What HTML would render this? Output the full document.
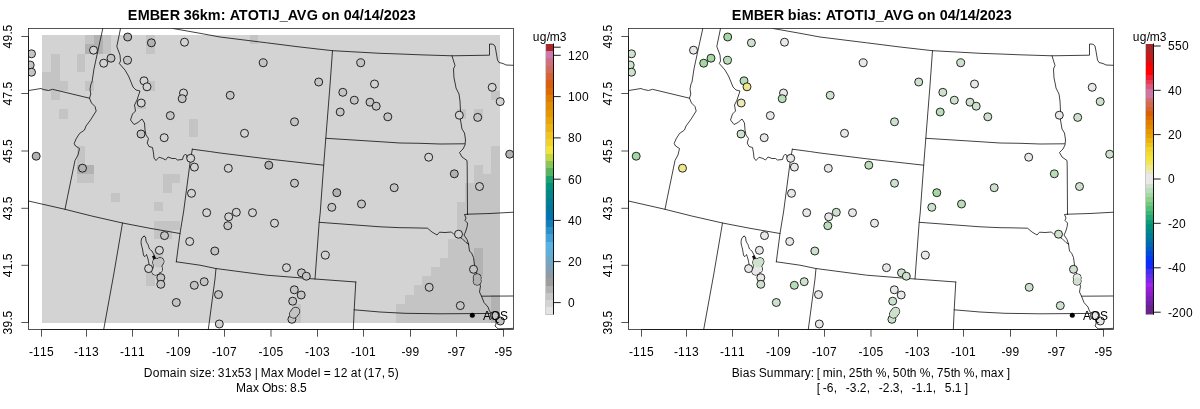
<!DOCTYPE html><html><head><meta charset="utf-8"><title>EMBER ATOTIJ_AVG</title>
<style>html,body{margin:0;padding:0;background:#fff}svg{display:block}text{font-family:"Liberation Sans",sans-serif;fill:#000}</style></head><body>
<svg width="1200" height="409" viewBox="0 0 1200 409">
<rect width="1200" height="409" fill="#fff"/>
<defs>
<clipPath id="clip"><rect x="28.5" y="28.5" width="485.0" height="301.0"/></clipPath>
<g id="map" fill="none" stroke="#000" stroke-width="0.75" stroke-linejoin="round" stroke-linecap="round">
<path d="M102.8,28.5 L98.5,48.0 L94.0,68.8 L92.0,82.0 L91.0,84.0 L90.0,89.0 L90.8,94.0 L89.5,98.2 L91.5,103.0 L95.0,106.5 L96.2,111.0 L93.0,116.0 L90.5,120.0 L86.0,126.0 L84.5,130.0 L79.5,133.5 L76.0,139.0 L74.2,143.5 L75.5,146.0 L79.5,148.5 L78.0,155.0 L75.0,160.5 L67.5,196.8 L65.0,209.3"/>
<path d="M28.5,90.5 L35.0,89.5 L41.0,88.5 L43.5,89.5 L48.5,90.5 L52.5,89.3 L89.5,98.2"/>
<path d="M28.5,201.0 L65.0,209.3 L91.7,216.0 L122.5,223.0 L150.0,228.3 L180.0,233.5"/>
<path d="M122.5,223.0 L113.8,274.0 L103.7,329.5"/>
<path d="M192.3,149.2 L190.0,163.0 L183.7,211.0 L180.0,233.5 L176.3,261.8"/>
<path d="M192.3,149.2 L209.7,151.5 L220.0,153.0 L266.7,158.8 L323.7,165.2"/>
<path d="M332.5,50.7 L329.8,88.0 L325.8,138.3 L323.7,165.2 L320.2,213.0 L319.2,222.3 L315.0,279.0"/>
<path d="M173.0,28.5 L200.0,33.3 L220.0,37.0 L266.7,42.8 L300.0,47.0 L332.5,50.7 L380.0,53.3 L400.0,54.0 L420.0,54.8 L452.0,55.8 L489.5,55.2 L489.5,44.0 L493.0,44.2 L495.0,46.0 L495.8,50.0 L497.5,60.0 L499.0,62.5 L503.0,63.5 L506.0,65.0 L513.5,65.3"/>
<path d="M452.0,55.8 L455.0,65.5 L453.5,69.0 L454.0,78.0 L455.5,85.0 L456.0,88.0 L459.0,94.0 L460.0,101.0 L460.5,111.0 L460.5,120.0 L462.0,129.0 L464.5,133.0 L465.5,140.0 L465.0,145.0 L463.0,149.0 L459.5,152.5 L462.0,157.0 L467.0,160.5 L467.2,165.8 L467.5,214.2"/>
<path d="M325.8,138.3 L380.0,141.7 L400.0,143.0 L420.0,143.3 L440.0,144.0 L464.5,143.8"/>
<path d="M467.5,214.2 L490.0,213.5 L513.5,212.2"/>
<path d="M467.5,214.2 L464.5,214.5 L466.0,218.0 L465.0,220.5 L467.5,223.0 L467.2,226.5 L465.5,232.0 L464.0,235.0 L467.0,239.5 L468.5,244.0"/>
<path d="M319.2,222.3 L380.0,226.8 L400.0,227.7 L410.0,227.8 L427.5,228.2 L432.0,232.0 L437.0,235.0 L439.5,232.2 L445.0,232.5 L451.5,232.0 L454.0,234.5 L462.0,238.5 L466.0,242.5 L468.5,244.0"/>
<path d="M468.5,244.0 L469.5,251.0 L471.6,253.2 L473.5,257.5 L474.5,265.0 L475.0,268.0 L476.5,274.0 L478.3,279.0 L479.6,284.0 L480.5,286.0 L479.5,292.0 L481.5,296.2 L484.0,302.5 L488.0,307.0 L489.5,311.0 L493.3,315.7 L496.0,321.0 L496.0,324.0 L495.0,326.0 L498.0,328.8 L510.0,328.5 L513.5,328.3"/>
<path d="M481.5,296.2 L513.5,296.0"/>
<path d="M354.2,309.8 L380.0,312.0 L405.0,313.3 L440.0,313.8 L484.0,313.5 L491.5,313.3"/>
<path d="M176.3,261.8 L200.0,265.2 L215.8,268.5 L266.7,275.2 L315.0,279.0 L355.8,282.0"/>
<path d="M355.8,282.0 L354.2,309.8 L353.3,329.5"/>
<path d="M216.0,268.5 L215.0,279.0 L208.3,329.5"/>
<path d="M120.5,28.5 L116.8,46.5 L120.0,55.0 L120.5,61.0 L119.3,63.5 L125.0,70.0 L128.5,76.0 L131.0,82.0 L133.0,87.0 L136.0,90.0 L140.0,91.0 L138.0,97.0 L137.0,100.0 L134.5,105.0 L135.5,111.0 L132.5,114.0 L130.5,120.0 L134.0,124.5 L138.0,122.5 L142.0,119.0 L144.5,123.0 L145.0,130.0 L146.0,135.0 L148.5,138.5 L147.2,143.0 L149.0,146.5 L152.5,147.5 L153.5,153.0 L154.0,158.0 L156.0,160.5 L159.0,157.2 L163.0,158.5 L165.5,160.0 L168.0,157.0 L172.0,158.5 L175.5,158.5 L177.5,160.0 L182.5,159.5 L183.5,156.0 L185.5,154.0 L186.5,155.5 L187.5,158.5 L190.3,161.2"/>
<path d="M144.0,236.4 L142.6,237.2 L141.5,239.0 L141.1,241.5 L141.2,244.0 L141.8,246.5 L142.5,249.0 L143.0,252.0 L143.5,255.0 L144.2,256.3 L145.0,256.5 L145.8,255.6 L146.5,254.5 L147.2,256.5 L148.0,259.0 L148.6,261.8 L149.0,264.0 L150.0,266.5 L152.5,267.5 L154.5,266.5 L156.5,264.0 L156.8,261.5 L156.0,259.0 L154.0,255.0 L152.0,251.0 L150.6,250.0 L149.5,249.0 L148.6,246.5 L148.0,244.5 L146.8,242.8 L146.0,241.0 L145.8,239.0 L145.5,237.0 L144.8,236.4 L144.0,236.4Z"/>
<path d="M152.8,256.5 L154.2,255.6 L156.2,260.8 L154.8,261.0 L153.4,259.0 L152.8,256.5Z" fill="#111"/>
</g>
<g id="axes" fill="none" stroke="#000" stroke-width="0.75" stroke-opacity="0.9">
<rect x="28.5" y="28.5" width="485.0" height="301.0"/>
<path d="M41.5,329.5 H503.5 M41.5,329.5 V336.7 M86.5,329.5 V336.7 M132.5,329.5 V336.7 M178.5,329.5 V336.7 M224.5,329.5 V336.7 M271,329.5 V336.7 M317.5,329.5 V336.7 M363.5,329.5 V336.7 M410.5,329.5 V336.7 M456.5,329.5 V336.7 M503.5,329.5 V336.7"/>
<path d="M28.5,36.5 V322.5 M28.5,36.5 H21.3 M28.5,93.5 H21.3 M28.5,151 H21.3 M28.5,208.3 H21.3 M28.5,265.3 H21.3 M28.5,322.5 H21.3"/>
</g>
<g id="axlab" font-size="12">
<text x="29 33 40 47" y="355.8" font-size="12" xml:space="preserve">-115</text>
<text x="74 78 85 92" y="355.8" font-size="12" xml:space="preserve">-113</text>
<text x="120 124 131 138" y="355.8" font-size="12" xml:space="preserve">-111</text>
<text x="166 170 177 184" y="355.8" font-size="12" xml:space="preserve">-109</text>
<text x="212 216 223 230" y="355.8" font-size="12" xml:space="preserve">-107</text>
<text x="258.5 262.5 269.5 276.5" y="355.8" font-size="12" xml:space="preserve">-105</text>
<text x="305 309 316 323" y="355.8" font-size="12" xml:space="preserve">-103</text>
<text x="351 355 362 369" y="355.8" font-size="12" xml:space="preserve">-101</text>
<text x="401.5 405.5 412.5" y="355.8" font-size="12" xml:space="preserve">-99</text>
<text x="447.5 451.5 458.5" y="355.8" font-size="12" xml:space="preserve">-97</text>
<text x="494.5 498.5 505.5" y="355.8" font-size="12" xml:space="preserve">-95</text>
<text transform="translate(11.8,36.5) rotate(-90)" x="-12 -5 2 5" y="0" font-size="12" xml:space="preserve">49.5</text>
<text transform="translate(11.8,93.5) rotate(-90)" x="-12 -5 2 5" y="0" font-size="12" xml:space="preserve">47.5</text>
<text transform="translate(11.8,151) rotate(-90)" x="-12 -5 2 5" y="0" font-size="12" xml:space="preserve">45.5</text>
<text transform="translate(11.8,208.3) rotate(-90)" x="-12 -5 2 5" y="0" font-size="12" xml:space="preserve">43.5</text>
<text transform="translate(11.8,265.3) rotate(-90)" x="-12 -5 2 5" y="0" font-size="12" xml:space="preserve">41.5</text>
<text transform="translate(11.8,322.5) rotate(-90)" x="-12 -5 2 5" y="0" font-size="12" xml:space="preserve">39.5</text>
<circle cx="472.3" cy="315.3" r="2.5" fill="#000"/>
<text x="483 491 500" y="319.5" font-size="12" xml:space="preserve">AQS</text>
</g>
</defs>
<g opacity="0.999">
<g transform="translate(0,0)">
<g shape-rendering="crispEdges">
<rect x="42.2" y="35.0" width="457.80" height="287.60" fill="#d3d3d3"/>
<rect x="42.20" y="72.11" width="8.69" height="9.33" fill="#c4c4c4"/>
<rect x="42.20" y="81.39" width="8.69" height="9.33" fill="#c4c4c4"/>
<rect x="50.84" y="53.55" width="8.69" height="9.33" fill="#c4c4c4"/>
<rect x="50.84" y="62.83" width="8.69" height="9.33" fill="#c4c4c4"/>
<rect x="50.84" y="72.11" width="8.69" height="9.33" fill="#c4c4c4"/>
<rect x="50.84" y="81.39" width="8.69" height="9.33" fill="#c4c4c4"/>
<rect x="50.84" y="90.66" width="8.69" height="9.33" fill="#c4c4c4"/>
<rect x="59.48" y="81.39" width="8.69" height="9.33" fill="#c4c4c4"/>
<rect x="59.48" y="109.22" width="8.69" height="9.33" fill="#c4c4c4"/>
<rect x="76.75" y="53.55" width="8.69" height="9.33" fill="#c4c4c4"/>
<rect x="76.75" y="62.83" width="8.69" height="9.33" fill="#c4c4c4"/>
<rect x="76.75" y="146.33" width="8.69" height="9.33" fill="#c4c4c4"/>
<rect x="76.75" y="155.61" width="8.69" height="9.33" fill="#c4c4c4"/>
<rect x="76.75" y="164.88" width="8.69" height="9.33" fill="#b2b2b2"/>
<rect x="76.75" y="174.16" width="8.69" height="9.33" fill="#c4c4c4"/>
<rect x="85.39" y="35.00" width="8.69" height="9.33" fill="#c4c4c4"/>
<rect x="85.39" y="44.28" width="8.69" height="9.33" fill="#b2b2b2"/>
<rect x="85.39" y="81.39" width="8.69" height="9.33" fill="#c4c4c4"/>
<rect x="85.39" y="164.88" width="8.69" height="9.33" fill="#b2b2b2"/>
<rect x="85.39" y="174.16" width="8.69" height="9.33" fill="#c4c4c4"/>
<rect x="94.03" y="35.00" width="8.69" height="9.33" fill="#b2b2b2"/>
<rect x="94.03" y="44.28" width="8.69" height="9.33" fill="#b2b2b2"/>
<rect x="102.66" y="35.00" width="8.69" height="9.33" fill="#c4c4c4"/>
<rect x="102.66" y="44.28" width="8.69" height="9.33" fill="#c4c4c4"/>
<rect x="111.30" y="192.72" width="8.69" height="9.33" fill="#c4c4c4"/>
<rect x="137.22" y="99.94" width="8.69" height="9.33" fill="#c4c4c4"/>
<rect x="145.85" y="35.00" width="8.69" height="9.33" fill="#c4c4c4"/>
<rect x="145.85" y="44.28" width="8.69" height="9.33" fill="#c4c4c4"/>
<rect x="145.85" y="81.39" width="8.69" height="9.33" fill="#c4c4c4"/>
<rect x="145.85" y="266.94" width="8.69" height="9.33" fill="#c4c4c4"/>
<rect x="145.85" y="276.21" width="8.69" height="9.33" fill="#c4c4c4"/>
<rect x="154.49" y="201.99" width="8.69" height="9.33" fill="#c4c4c4"/>
<rect x="154.49" y="220.55" width="8.69" height="9.33" fill="#c4c4c4"/>
<rect x="154.49" y="229.83" width="8.69" height="9.33" fill="#c4c4c4"/>
<rect x="154.49" y="248.38" width="8.69" height="9.33" fill="#c4c4c4"/>
<rect x="154.49" y="257.66" width="8.69" height="9.33" fill="#c4c4c4"/>
<rect x="163.13" y="174.16" width="8.69" height="9.33" fill="#c4c4c4"/>
<rect x="163.13" y="183.44" width="8.69" height="9.33" fill="#c4c4c4"/>
<rect x="163.13" y="220.55" width="8.69" height="9.33" fill="#c4c4c4"/>
<rect x="163.13" y="229.83" width="8.69" height="9.33" fill="#c4c4c4"/>
<rect x="171.77" y="174.16" width="8.69" height="9.33" fill="#c4c4c4"/>
<rect x="171.77" y="220.55" width="8.69" height="9.33" fill="#c4c4c4"/>
<rect x="189.04" y="118.50" width="8.69" height="9.33" fill="#c4c4c4"/>
<rect x="189.04" y="127.77" width="8.69" height="9.33" fill="#c4c4c4"/>
<rect x="249.51" y="35.00" width="8.69" height="9.33" fill="#c4c4c4"/>
<rect x="292.69" y="304.05" width="8.69" height="9.33" fill="#c4c4c4"/>
<rect x="292.69" y="313.32" width="8.69" height="9.33" fill="#c4c4c4"/>
<rect x="396.35" y="304.05" width="8.69" height="9.33" fill="#c4c4c4"/>
<rect x="396.35" y="313.32" width="8.69" height="9.33" fill="#c4c4c4"/>
<rect x="404.98" y="294.77" width="8.69" height="9.33" fill="#c4c4c4"/>
<rect x="404.98" y="304.05" width="8.69" height="9.33" fill="#c4c4c4"/>
<rect x="404.98" y="313.32" width="8.69" height="9.33" fill="#c4c4c4"/>
<rect x="413.62" y="285.49" width="8.69" height="9.33" fill="#c4c4c4"/>
<rect x="413.62" y="294.77" width="8.69" height="9.33" fill="#c4c4c4"/>
<rect x="413.62" y="304.05" width="8.69" height="9.33" fill="#c4c4c4"/>
<rect x="413.62" y="313.32" width="8.69" height="9.33" fill="#c4c4c4"/>
<rect x="422.26" y="276.21" width="8.69" height="9.33" fill="#c4c4c4"/>
<rect x="422.26" y="285.49" width="8.69" height="9.33" fill="#c4c4c4"/>
<rect x="422.26" y="294.77" width="8.69" height="9.33" fill="#c4c4c4"/>
<rect x="422.26" y="304.05" width="8.69" height="9.33" fill="#c4c4c4"/>
<rect x="422.26" y="313.32" width="8.69" height="9.33" fill="#c4c4c4"/>
<rect x="430.90" y="266.94" width="8.69" height="9.33" fill="#c4c4c4"/>
<rect x="430.90" y="276.21" width="8.69" height="9.33" fill="#c4c4c4"/>
<rect x="430.90" y="285.49" width="8.69" height="9.33" fill="#c4c4c4"/>
<rect x="430.90" y="294.77" width="8.69" height="9.33" fill="#c4c4c4"/>
<rect x="430.90" y="304.05" width="8.69" height="9.33" fill="#c4c4c4"/>
<rect x="430.90" y="313.32" width="8.69" height="9.33" fill="#c4c4c4"/>
<rect x="439.54" y="257.66" width="8.69" height="9.33" fill="#c4c4c4"/>
<rect x="439.54" y="266.94" width="8.69" height="9.33" fill="#c4c4c4"/>
<rect x="439.54" y="276.21" width="8.69" height="9.33" fill="#c4c4c4"/>
<rect x="439.54" y="285.49" width="8.69" height="9.33" fill="#c4c4c4"/>
<rect x="439.54" y="294.77" width="8.69" height="9.33" fill="#c4c4c4"/>
<rect x="439.54" y="304.05" width="8.69" height="9.33" fill="#c4c4c4"/>
<rect x="439.54" y="313.32" width="8.69" height="9.33" fill="#c4c4c4"/>
<rect x="448.17" y="239.10" width="8.69" height="9.33" fill="#c4c4c4"/>
<rect x="448.17" y="248.38" width="8.69" height="9.33" fill="#c4c4c4"/>
<rect x="448.17" y="257.66" width="8.69" height="9.33" fill="#c4c4c4"/>
<rect x="448.17" y="266.94" width="8.69" height="9.33" fill="#c4c4c4"/>
<rect x="448.17" y="276.21" width="8.69" height="9.33" fill="#c4c4c4"/>
<rect x="448.17" y="285.49" width="8.69" height="9.33" fill="#c4c4c4"/>
<rect x="448.17" y="294.77" width="8.69" height="9.33" fill="#c4c4c4"/>
<rect x="448.17" y="304.05" width="8.69" height="9.33" fill="#c4c4c4"/>
<rect x="448.17" y="313.32" width="8.69" height="9.33" fill="#c4c4c4"/>
<rect x="456.81" y="109.22" width="8.69" height="9.33" fill="#c4c4c4"/>
<rect x="456.81" y="201.99" width="8.69" height="9.33" fill="#c4c4c4"/>
<rect x="456.81" y="211.27" width="8.69" height="9.33" fill="#c4c4c4"/>
<rect x="456.81" y="220.55" width="8.69" height="9.33" fill="#c4c4c4"/>
<rect x="456.81" y="229.83" width="8.69" height="9.33" fill="#c4c4c4"/>
<rect x="456.81" y="239.10" width="8.69" height="9.33" fill="#c4c4c4"/>
<rect x="456.81" y="248.38" width="8.69" height="9.33" fill="#c4c4c4"/>
<rect x="456.81" y="257.66" width="8.69" height="9.33" fill="#c4c4c4"/>
<rect x="456.81" y="266.94" width="8.69" height="9.33" fill="#c4c4c4"/>
<rect x="456.81" y="276.21" width="8.69" height="9.33" fill="#c4c4c4"/>
<rect x="456.81" y="285.49" width="8.69" height="9.33" fill="#c4c4c4"/>
<rect x="456.81" y="294.77" width="8.69" height="9.33" fill="#c4c4c4"/>
<rect x="456.81" y="304.05" width="8.69" height="9.33" fill="#c4c4c4"/>
<rect x="456.81" y="313.32" width="8.69" height="9.33" fill="#c4c4c4"/>
<rect x="465.45" y="183.44" width="8.69" height="9.33" fill="#c4c4c4"/>
<rect x="465.45" y="192.72" width="8.69" height="9.33" fill="#c4c4c4"/>
<rect x="465.45" y="201.99" width="8.69" height="9.33" fill="#c4c4c4"/>
<rect x="465.45" y="211.27" width="8.69" height="9.33" fill="#c4c4c4"/>
<rect x="465.45" y="220.55" width="8.69" height="9.33" fill="#c4c4c4"/>
<rect x="465.45" y="229.83" width="8.69" height="9.33" fill="#c4c4c4"/>
<rect x="465.45" y="239.10" width="8.69" height="9.33" fill="#c4c4c4"/>
<rect x="465.45" y="248.38" width="8.69" height="9.33" fill="#c4c4c4"/>
<rect x="465.45" y="257.66" width="8.69" height="9.33" fill="#c4c4c4"/>
<rect x="465.45" y="266.94" width="8.69" height="9.33" fill="#c4c4c4"/>
<rect x="465.45" y="276.21" width="8.69" height="9.33" fill="#c4c4c4"/>
<rect x="465.45" y="285.49" width="8.69" height="9.33" fill="#c4c4c4"/>
<rect x="465.45" y="294.77" width="8.69" height="9.33" fill="#c4c4c4"/>
<rect x="465.45" y="304.05" width="8.69" height="9.33" fill="#c4c4c4"/>
<rect x="465.45" y="313.32" width="8.69" height="9.33" fill="#c4c4c4"/>
<rect x="474.09" y="109.22" width="8.69" height="9.33" fill="#c4c4c4"/>
<rect x="474.09" y="164.88" width="8.69" height="9.33" fill="#c4c4c4"/>
<rect x="474.09" y="174.16" width="8.69" height="9.33" fill="#c4c4c4"/>
<rect x="474.09" y="183.44" width="8.69" height="9.33" fill="#c4c4c4"/>
<rect x="474.09" y="192.72" width="8.69" height="9.33" fill="#c4c4c4"/>
<rect x="474.09" y="201.99" width="8.69" height="9.33" fill="#c4c4c4"/>
<rect x="474.09" y="211.27" width="8.69" height="9.33" fill="#c4c4c4"/>
<rect x="474.09" y="220.55" width="8.69" height="9.33" fill="#c4c4c4"/>
<rect x="474.09" y="229.83" width="8.69" height="9.33" fill="#c4c4c4"/>
<rect x="474.09" y="239.10" width="8.69" height="9.33" fill="#c4c4c4"/>
<rect x="474.09" y="248.38" width="8.69" height="9.33" fill="#b2b2b2"/>
<rect x="474.09" y="257.66" width="8.69" height="9.33" fill="#b2b2b2"/>
<rect x="474.09" y="266.94" width="8.69" height="9.33" fill="#b2b2b2"/>
<rect x="474.09" y="276.21" width="8.69" height="9.33" fill="#c4c4c4"/>
<rect x="474.09" y="285.49" width="8.69" height="9.33" fill="#c4c4c4"/>
<rect x="474.09" y="294.77" width="8.69" height="9.33" fill="#c4c4c4"/>
<rect x="474.09" y="304.05" width="8.69" height="9.33" fill="#c4c4c4"/>
<rect x="474.09" y="313.32" width="8.69" height="9.33" fill="#c4c4c4"/>
<rect x="482.72" y="174.16" width="8.69" height="9.33" fill="#c4c4c4"/>
<rect x="482.72" y="183.44" width="8.69" height="9.33" fill="#c4c4c4"/>
<rect x="482.72" y="192.72" width="8.69" height="9.33" fill="#c4c4c4"/>
<rect x="482.72" y="201.99" width="8.69" height="9.33" fill="#c4c4c4"/>
<rect x="482.72" y="211.27" width="8.69" height="9.33" fill="#c4c4c4"/>
<rect x="482.72" y="220.55" width="8.69" height="9.33" fill="#c4c4c4"/>
<rect x="482.72" y="229.83" width="8.69" height="9.33" fill="#c4c4c4"/>
<rect x="482.72" y="239.10" width="8.69" height="9.33" fill="#c4c4c4"/>
<rect x="482.72" y="248.38" width="8.69" height="9.33" fill="#c4c4c4"/>
<rect x="482.72" y="257.66" width="8.69" height="9.33" fill="#c4c4c4"/>
<rect x="482.72" y="266.94" width="8.69" height="9.33" fill="#c4c4c4"/>
<rect x="482.72" y="276.21" width="8.69" height="9.33" fill="#c4c4c4"/>
<rect x="482.72" y="285.49" width="8.69" height="9.33" fill="#c4c4c4"/>
<rect x="482.72" y="294.77" width="8.69" height="9.33" fill="#c4c4c4"/>
<rect x="482.72" y="304.05" width="8.69" height="9.33" fill="#c4c4c4"/>
<rect x="482.72" y="313.32" width="8.69" height="9.33" fill="#c4c4c4"/>
<rect x="491.36" y="90.66" width="8.69" height="9.33" fill="#c4c4c4"/>
<rect x="491.36" y="146.33" width="8.69" height="9.33" fill="#c4c4c4"/>
<rect x="491.36" y="155.61" width="8.69" height="9.33" fill="#c4c4c4"/>
<rect x="491.36" y="164.88" width="8.69" height="9.33" fill="#c4c4c4"/>
<rect x="491.36" y="174.16" width="8.69" height="9.33" fill="#c4c4c4"/>
<rect x="491.36" y="183.44" width="8.69" height="9.33" fill="#c4c4c4"/>
<rect x="491.36" y="192.72" width="8.69" height="9.33" fill="#c4c4c4"/>
<rect x="491.36" y="201.99" width="8.69" height="9.33" fill="#c4c4c4"/>
<rect x="491.36" y="211.27" width="8.69" height="9.33" fill="#c4c4c4"/>
<rect x="491.36" y="220.55" width="8.69" height="9.33" fill="#c4c4c4"/>
<rect x="491.36" y="229.83" width="8.69" height="9.33" fill="#c4c4c4"/>
<rect x="491.36" y="239.10" width="8.69" height="9.33" fill="#c4c4c4"/>
<rect x="491.36" y="248.38" width="8.69" height="9.33" fill="#c4c4c4"/>
<rect x="491.36" y="257.66" width="8.69" height="9.33" fill="#c4c4c4"/>
<rect x="491.36" y="266.94" width="8.69" height="9.33" fill="#c4c4c4"/>
<rect x="491.36" y="276.21" width="8.69" height="9.33" fill="#c4c4c4"/>
<rect x="491.36" y="285.49" width="8.69" height="9.33" fill="#c4c4c4"/>
<rect x="491.36" y="294.77" width="8.69" height="9.33" fill="#b2b2b2"/>
<rect x="491.36" y="304.05" width="8.69" height="9.33" fill="#b2b2b2"/>
<rect x="491.36" y="313.32" width="8.69" height="9.33" fill="#b2b2b2"/>
</g>
<g clip-path="url(#clip)">
<use href="#map"/>
<g stroke="#000" stroke-width="0.9" stroke-opacity="0.92">
<circle cx="31.5" cy="53.8" r="4.0" fill="#c4c4c4"/>
<circle cx="30.2" cy="65" r="4.0" fill="#c4c4c4"/>
<circle cx="31.5" cy="72.2" r="4.0" fill="#c4c4c4"/>
<circle cx="93.5" cy="50.2" r="4.0" fill="#d3d3d3"/>
<circle cx="103.7" cy="63.2" r="4.0" fill="#d3d3d3"/>
<circle cx="111" cy="58.2" r="4.0" fill="#c4c4c4"/>
<circle cx="127.7" cy="37" r="4.0" fill="#b2b2b2"/>
<circle cx="127.5" cy="60.3" r="4.0" fill="#c4c4c4"/>
<circle cx="151.4" cy="42.8" r="4.0" fill="#b2b2b2"/>
<circle cx="184.5" cy="42.2" r="4.0" fill="#d3d3d3"/>
<circle cx="144" cy="80.8" r="4.0" fill="#d3d3d3"/>
<circle cx="147" cy="86.8" r="4.0" fill="#d3d3d3"/>
<circle cx="263.2" cy="62.8" r="4.0" fill="#c4c4c4"/>
<circle cx="318.7" cy="82" r="4.0" fill="#c4c4c4"/>
<circle cx="360.7" cy="62.8" r="4.0" fill="#c4c4c4"/>
<circle cx="374.5" cy="84" r="4.0" fill="#d3d3d3"/>
<circle cx="183.5" cy="93" r="4.0" fill="#d3d3d3"/>
<circle cx="182.2" cy="98.7" r="4.0" fill="#c4c4c4"/>
<circle cx="141.2" cy="103" r="4.0" fill="#d3d3d3"/>
<circle cx="170.3" cy="115.6" r="4.0" fill="#c4c4c4"/>
<circle cx="141" cy="134" r="4.0" fill="#c4c4c4"/>
<circle cx="164.2" cy="137.7" r="4.0" fill="#d3d3d3"/>
<circle cx="230.2" cy="95.3" r="4.0" fill="#c4c4c4"/>
<circle cx="244.5" cy="133.3" r="4.0" fill="#d3d3d3"/>
<circle cx="294.5" cy="121.8" r="4.0" fill="#c4c4c4"/>
<circle cx="342.8" cy="92.3" r="4.0" fill="#c4c4c4"/>
<circle cx="354.3" cy="100.2" r="4.0" fill="#c4c4c4"/>
<circle cx="340.2" cy="112" r="4.0" fill="#c4c4c4"/>
<circle cx="370" cy="102.2" r="4.0" fill="#c4c4c4"/>
<circle cx="376.2" cy="106.2" r="4.0" fill="#c4c4c4"/>
<circle cx="387.8" cy="116.8" r="4.0" fill="#c4c4c4"/>
<circle cx="492.2" cy="87.3" r="4.0" fill="#d3d3d3"/>
<circle cx="500.2" cy="101.6" r="4.0" fill="#d3d3d3"/>
<circle cx="459.3" cy="115.2" r="4.0" fill="#d3d3d3"/>
<circle cx="477.7" cy="117.4" r="4.0" fill="#c4c4c4"/>
<circle cx="509.7" cy="154.2" r="4.0" fill="#b2b2b2"/>
<circle cx="36.2" cy="156.2" r="4.0" fill="#b2b2b2"/>
<circle cx="82.5" cy="168.2" r="4.0" fill="#b2b2b2"/>
<circle cx="190.7" cy="158.3" r="4.0" fill="#d3d3d3"/>
<circle cx="194.4" cy="167.1" r="4.0" fill="#d3d3d3"/>
<circle cx="191.5" cy="193.3" r="4.0" fill="#d3d3d3"/>
<circle cx="206.7" cy="212.7" r="4.0" fill="#d3d3d3"/>
<circle cx="228.3" cy="168.3" r="4.0" fill="#d3d3d3"/>
<circle cx="268.8" cy="165.2" r="4.0" fill="#b2b2b2"/>
<circle cx="294.5" cy="183.2" r="4.0" fill="#c4c4c4"/>
<circle cx="336.8" cy="192.7" r="4.0" fill="#b2b2b2"/>
<circle cx="331.8" cy="207.3" r="4.0" fill="#c4c4c4"/>
<circle cx="361.5" cy="204" r="4.0" fill="#c4c4c4"/>
<circle cx="394.2" cy="187.7" r="4.0" fill="#c4c4c4"/>
<circle cx="236.3" cy="212.3" r="4.0" fill="#d3d3d3"/>
<circle cx="252.5" cy="212.7" r="4.0" fill="#d3d3d3"/>
<circle cx="228.7" cy="216.8" r="4.0" fill="#d3d3d3"/>
<circle cx="227.8" cy="225.7" r="4.0" fill="#c4c4c4"/>
<circle cx="274.5" cy="223.2" r="4.0" fill="#d3d3d3"/>
<circle cx="428.7" cy="157.2" r="4.0" fill="#d3d3d3"/>
<circle cx="454.3" cy="173.8" r="4.0" fill="#b2b2b2"/>
<circle cx="479.5" cy="186.5" r="4.0" fill="#c4c4c4"/>
<circle cx="164.5" cy="235.6" r="4.0" fill="#c4c4c4"/>
<circle cx="189.7" cy="241.5" r="4.0" fill="#d3d3d3"/>
<circle cx="214.8" cy="251" r="4.0" fill="#c4c4c4"/>
<circle cx="159.4" cy="250.3" r="4.0" fill="#d3d3d3"/>
<circle cx="286.5" cy="267.7" r="4.0" fill="#d3d3d3"/>
<circle cx="301.5" cy="272.8" r="4.0" fill="#c4c4c4"/>
<circle cx="306.3" cy="276.2" r="4.0" fill="#c4c4c4"/>
<circle cx="325.3" cy="255.2" r="4.0" fill="#d3d3d3"/>
<circle cx="458.5" cy="234.2" r="4.0" fill="#d3d3d3"/>
<circle cx="473.5" cy="269.3" r="4.0" fill="#c4c4c4"/>
<circle cx="477.2" cy="277.8" r="4.0" fill="#b2b2b2"/>
<circle cx="477.2" cy="281.2" r="4.0" fill="#b2b2b2"/>
<circle cx="477.2" cy="277.8" r="3.6" stroke="none" fill="#b2b2b2"/>
<circle cx="477.2" cy="281.2" r="3.6" stroke="none" fill="#b2b2b2"/>
<circle cx="155.7" cy="271.2" r="4.0" fill="#d3d3d3"/>
<circle cx="158.6" cy="269.0" r="4.0" fill="#d3d3d3"/>
<circle cx="157.2" cy="267.0" r="4.0" fill="#d3d3d3"/>
<circle cx="156.6" cy="262.4" r="4.0" fill="#c4c4c4"/>
<circle cx="160.0" cy="261.6" r="4.0" fill="#c4c4c4"/>
<circle cx="158.4" cy="264.0" r="4.0" fill="#c4c4c4"/>
<circle cx="155.7" cy="271.2" r="3.6" stroke="none" fill="#d3d3d3"/>
<circle cx="158.6" cy="269.0" r="3.6" stroke="none" fill="#d3d3d3"/>
<circle cx="157.2" cy="267.0" r="3.6" stroke="none" fill="#d3d3d3"/>
<circle cx="156.6" cy="262.4" r="3.6" stroke="none" fill="#c4c4c4"/>
<circle cx="160.0" cy="261.6" r="3.6" stroke="none" fill="#c4c4c4"/>
<circle cx="158.4" cy="264.0" r="3.6" stroke="none" fill="#c4c4c4"/>
<circle cx="148.6" cy="268.6" r="4.0" fill="#d3d3d3"/>
<circle cx="160.8" cy="277.7" r="4.0" fill="#c4c4c4"/>
<circle cx="160.8" cy="284.3" r="4.0" fill="#c4c4c4"/>
<circle cx="194.3" cy="285.3" r="4.0" fill="#c4c4c4"/>
<circle cx="204.2" cy="281.7" r="4.0" fill="#c4c4c4"/>
<circle cx="176.3" cy="302.5" r="4.0" fill="#c4c4c4"/>
<circle cx="218.5" cy="294.6" r="4.0" fill="#c4c4c4"/>
<circle cx="219.3" cy="324" r="4.0" fill="#d3d3d3"/>
<circle cx="294.3" cy="289.8" r="4.0" fill="#c4c4c4"/>
<circle cx="301.2" cy="295" r="4.0" fill="#c4c4c4"/>
<circle cx="292.7" cy="301.2" r="4.0" fill="#c4c4c4"/>
<circle cx="291.9" cy="319.3" r="4.0" fill="#c4c4c4"/>
<circle cx="293.5" cy="314.2" r="4.0" fill="#c4c4c4"/>
<circle cx="294.2" cy="313.3" r="4.0" fill="#c4c4c4"/>
<circle cx="295" cy="312.3" r="4.0" fill="#c4c4c4"/>
<circle cx="295.7" cy="311.3" r="4.0" fill="#c4c4c4"/>
<circle cx="293.5" cy="314.2" r="3.6" stroke="none" fill="#c4c4c4"/>
<circle cx="294.2" cy="313.3" r="3.6" stroke="none" fill="#c4c4c4"/>
<circle cx="295" cy="312.3" r="3.6" stroke="none" fill="#c4c4c4"/>
<circle cx="295.7" cy="311.3" r="3.6" stroke="none" fill="#c4c4c4"/>
<circle cx="429.2" cy="287.3" r="4.0" fill="#c4c4c4"/>
<circle cx="460.3" cy="305.6" r="4.0" fill="#c4c4c4"/>
<circle cx="494.5" cy="315.5" r="4.0" fill="#c4c4c4"/>
<circle cx="500.3" cy="321" r="4.0" fill="#c4c4c4"/>
</g></g>
<use href="#axes"/><use href="#axlab"/>
</g>
<g transform="translate(600,0)">
<g clip-path="url(#clip)">
<use href="#map"/>
<g stroke="#000" stroke-width="0.9" stroke-opacity="0.92">
<circle cx="31.5" cy="53.8" r="4.0" fill="#cde1cd"/>
<circle cx="30.2" cy="65" r="4.0" fill="#cde1cd"/>
<circle cx="31.5" cy="72.2" r="4.0" fill="#cde1cd"/>
<circle cx="93.5" cy="50.2" r="4.0" fill="#e8e8e8"/>
<circle cx="103.7" cy="63.2" r="4.0" fill="#a5d7a5"/>
<circle cx="111" cy="58.2" r="4.0" fill="#a5d7a5"/>
<circle cx="127.7" cy="37" r="4.0" fill="#a5d7a5"/>
<circle cx="127.5" cy="60.3" r="4.0" fill="#b9dcb9"/>
<circle cx="151.4" cy="42.8" r="4.0" fill="#cde1cd"/>
<circle cx="184.5" cy="42.2" r="4.0" fill="#e8e8e8"/>
<circle cx="144" cy="80.8" r="4.0" fill="#b9dcb9"/>
<circle cx="147" cy="86.8" r="4.0" fill="#eee88c"/>
<circle cx="263.2" cy="62.8" r="4.0" fill="#e8e8e8"/>
<circle cx="318.7" cy="82" r="4.0" fill="#cde1cd"/>
<circle cx="360.7" cy="62.8" r="4.0" fill="#cde1cd"/>
<circle cx="374.5" cy="84" r="4.0" fill="#e8e8e8"/>
<circle cx="183.5" cy="93" r="4.0" fill="#e8e8e8"/>
<circle cx="182.2" cy="98.7" r="4.0" fill="#b9dcb9"/>
<circle cx="141.2" cy="103" r="4.0" fill="#ece8b9"/>
<circle cx="170.3" cy="115.6" r="4.0" fill="#e8e8e8"/>
<circle cx="141" cy="134" r="4.0" fill="#cde1cd"/>
<circle cx="164.2" cy="137.7" r="4.0" fill="#e8e8e8"/>
<circle cx="230.2" cy="95.3" r="4.0" fill="#cde1cd"/>
<circle cx="244.5" cy="133.3" r="4.0" fill="#e8e8e8"/>
<circle cx="294.5" cy="121.8" r="4.0" fill="#cde1cd"/>
<circle cx="342.8" cy="92.3" r="4.0" fill="#cde1cd"/>
<circle cx="354.3" cy="100.2" r="4.0" fill="#cde1cd"/>
<circle cx="340.2" cy="112" r="4.0" fill="#b9dcb9"/>
<circle cx="370" cy="102.2" r="4.0" fill="#cde1cd"/>
<circle cx="376.2" cy="106.2" r="4.0" fill="#cde1cd"/>
<circle cx="387.8" cy="116.8" r="4.0" fill="#cde1cd"/>
<circle cx="492.2" cy="87.3" r="4.0" fill="#e8e8e8"/>
<circle cx="500.2" cy="101.6" r="4.0" fill="#cde1cd"/>
<circle cx="459.3" cy="115.2" r="4.0" fill="#e8e8e8"/>
<circle cx="477.7" cy="117.4" r="4.0" fill="#cde1cd"/>
<circle cx="509.7" cy="154.2" r="4.0" fill="#cde1cd"/>
<circle cx="36.2" cy="156.2" r="4.0" fill="#a5d7a5"/>
<circle cx="82.5" cy="168.2" r="4.0" fill="#eee88c"/>
<circle cx="190.7" cy="158.3" r="4.0" fill="#e8e8e8"/>
<circle cx="194.4" cy="167.1" r="4.0" fill="#e8e8e8"/>
<circle cx="191.5" cy="193.3" r="4.0" fill="#e8e8e8"/>
<circle cx="206.7" cy="212.7" r="4.0" fill="#e8e8e8"/>
<circle cx="228.3" cy="168.3" r="4.0" fill="#e8e8e8"/>
<circle cx="268.8" cy="165.2" r="4.0" fill="#b9dcb9"/>
<circle cx="294.5" cy="183.2" r="4.0" fill="#cde1cd"/>
<circle cx="336.8" cy="192.7" r="4.0" fill="#a5d7a5"/>
<circle cx="331.8" cy="207.3" r="4.0" fill="#cde1cd"/>
<circle cx="361.5" cy="204" r="4.0" fill="#b9dcb9"/>
<circle cx="394.2" cy="187.7" r="4.0" fill="#cde1cd"/>
<circle cx="236.3" cy="212.3" r="4.0" fill="#cde1cd"/>
<circle cx="252.5" cy="212.7" r="4.0" fill="#e8e8e8"/>
<circle cx="228.7" cy="216.8" r="4.0" fill="#e8e8e8"/>
<circle cx="227.8" cy="225.7" r="4.0" fill="#b9dcb9"/>
<circle cx="274.5" cy="223.2" r="4.0" fill="#e8e8e8"/>
<circle cx="428.7" cy="157.2" r="4.0" fill="#e8e8e8"/>
<circle cx="454.3" cy="173.8" r="4.0" fill="#b9dcb9"/>
<circle cx="479.5" cy="186.5" r="4.0" fill="#cde1cd"/>
<circle cx="164.5" cy="235.6" r="4.0" fill="#e8e8e8"/>
<circle cx="189.7" cy="241.5" r="4.0" fill="#e8e8e8"/>
<circle cx="214.8" cy="251" r="4.0" fill="#cde1cd"/>
<circle cx="159.4" cy="250.3" r="4.0" fill="#e8e8e8"/>
<circle cx="286.5" cy="267.7" r="4.0" fill="#e8e8e8"/>
<circle cx="301.5" cy="272.8" r="4.0" fill="#cde1cd"/>
<circle cx="306.3" cy="276.2" r="4.0" fill="#cde1cd"/>
<circle cx="325.3" cy="255.2" r="4.0" fill="#e8e8e8"/>
<circle cx="458.5" cy="234.2" r="4.0" fill="#cde1cd"/>
<circle cx="473.5" cy="269.3" r="4.0" fill="#cde1cd"/>
<circle cx="477.2" cy="277.8" r="4.0" fill="#e8e8e8"/>
<circle cx="477.2" cy="281.2" r="4.0" fill="#cde1cd"/>
<circle cx="477.2" cy="277.8" r="3.6" stroke="none" fill="#e8e8e8"/>
<circle cx="477.2" cy="281.2" r="3.6" stroke="none" fill="#cde1cd"/>
<circle cx="155.7" cy="271.2" r="4.0" fill="#e8e8e8"/>
<circle cx="158.6" cy="269.0" r="4.0" fill="#e8e8e8"/>
<circle cx="157.2" cy="267.0" r="4.0" fill="#e8e8e8"/>
<circle cx="156.6" cy="262.4" r="4.0" fill="#cde1cd"/>
<circle cx="160.0" cy="261.6" r="4.0" fill="#cde1cd"/>
<circle cx="158.4" cy="264.0" r="4.0" fill="#cde1cd"/>
<circle cx="155.7" cy="271.2" r="3.6" stroke="none" fill="#e8e8e8"/>
<circle cx="158.6" cy="269.0" r="3.6" stroke="none" fill="#e8e8e8"/>
<circle cx="157.2" cy="267.0" r="3.6" stroke="none" fill="#e8e8e8"/>
<circle cx="156.6" cy="262.4" r="3.6" stroke="none" fill="#cde1cd"/>
<circle cx="160.0" cy="261.6" r="3.6" stroke="none" fill="#cde1cd"/>
<circle cx="158.4" cy="264.0" r="3.6" stroke="none" fill="#cde1cd"/>
<circle cx="148.6" cy="268.6" r="4.0" fill="#e8e8e8"/>
<circle cx="160.8" cy="277.7" r="4.0" fill="#e8e8e8"/>
<circle cx="160.8" cy="284.3" r="4.0" fill="#cde1cd"/>
<circle cx="194.3" cy="285.3" r="4.0" fill="#b9dcb9"/>
<circle cx="204.2" cy="281.7" r="4.0" fill="#cde1cd"/>
<circle cx="176.3" cy="302.5" r="4.0" fill="#cde1cd"/>
<circle cx="218.5" cy="294.6" r="4.0" fill="#e8e8e8"/>
<circle cx="219.3" cy="324" r="4.0" fill="#e8e8e8"/>
<circle cx="294.3" cy="289.8" r="4.0" fill="#e8e8e8"/>
<circle cx="301.2" cy="295" r="4.0" fill="#e8e8e8"/>
<circle cx="292.7" cy="301.2" r="4.0" fill="#cde1cd"/>
<circle cx="291.9" cy="319.3" r="4.0" fill="#cde1cd"/>
<circle cx="293.5" cy="314.2" r="4.0" fill="#cde1cd"/>
<circle cx="294.2" cy="313.3" r="4.0" fill="#cde1cd"/>
<circle cx="295" cy="312.3" r="4.0" fill="#cde1cd"/>
<circle cx="295.7" cy="311.3" r="4.0" fill="#cde1cd"/>
<circle cx="293.5" cy="314.2" r="3.6" stroke="none" fill="#cde1cd"/>
<circle cx="294.2" cy="313.3" r="3.6" stroke="none" fill="#cde1cd"/>
<circle cx="295" cy="312.3" r="3.6" stroke="none" fill="#cde1cd"/>
<circle cx="295.7" cy="311.3" r="3.6" stroke="none" fill="#cde1cd"/>
<circle cx="429.2" cy="287.3" r="4.0" fill="#cde1cd"/>
<circle cx="460.3" cy="305.6" r="4.0" fill="#cde1cd"/>
<circle cx="494.5" cy="315.5" r="4.0" fill="#e8e8e8"/>
<circle cx="500.3" cy="321" r="4.0" fill="#e8e8e8"/>
</g></g>
<use href="#axes"/><use href="#axlab"/>
</g>
<g>
<text x="127.7 137.7 149.7 159.7 169.7 179.7 183.7 191.7 199.7 207.7 220.7 225.7 229.7 238.7 247.7 258.7 267.7 271.7 279.7 287.7 296.7 306.7 317.7 321.7 330.7 339.7 343.7 351.7 359.7 363.7 371.7 379.7 383.7 391.7 399.7 407.7" y="19.6" font-size="14.4" font-weight="bold" xml:space="preserve">EMBER 36km: ATOTIJ_AVG on 04/14/2023</text>
<text x="731.7 741.7 753.7 763.7 773.7 783.7 787.7 796.7 800.7 808.7 816.7 821.7 825.7 834.7 843.7 854.7 863.7 867.7 875.7 883.7 892.7 902.7 913.7 917.7 926.7 935.7 939.7 947.7 955.7 959.7 967.7 975.7 979.7 987.7 995.7 1003.7" y="19.6" font-size="14.4" font-weight="bold" xml:space="preserve">EMBER bias: ATOTIJ_AVG on 04/14/2023</text>
</g>
<g font-size="12">
<text x="143.7 152.7 159.7 169.7 176.7 179.7 186.7 189.7 195.7 198.7 204.7 211.7 214.7 217.7 224.7 231.7 237.7 244.7 251.7 254.7 257.7 260.7 270.7 277.7 283.7 286.7 296.7 303.7 310.7 317.7 320.7 323.7 330.7 333.7 340.7 347.7 350.7 357.7 360.7 363.7 367.7 374.7 381.7 384.7 387.7 394.7" y="376.8" font-size="12" xml:space="preserve">Domain size: 31x53 | Max Model = 12 at (17, 5)</text>
<text x="235.9 245.9 252.9 258.9 261.9 270.9 277.9 283.9 286.9 289.9 296.9 299.9" y="391.5" font-size="12" xml:space="preserve">Max Obs: 8.5</text>
<text x="731.7 739.7 742.7 749.7 755.7 758.7 766.7 773.7 783.7 793.7 800.7 804.7 810.7 813.7 816.7 819.7 822.7 832.7 835.7 842.7 845.7 848.7 855.7 862.7 865.7 872.7 875.7 886.7 889.7 892.7 899.7 906.7 909.7 916.7 919.7 930.7 933.7 936.7 943.7 950.7 953.7 960.7 963.7 974.7 977.7 980.7 990.7 997.7 1003.7 1006.7" y="376.8" font-size="12" xml:space="preserve">Bias Summary: [ min, 25th %, 50th %, 75th %, max ]</text>
<text x="816.7 819.7 822.7 826.7 833.7 836.7 839.7 842.7 845.7 849.7 856.7 859.7 866.7 869.7 872.7 875.7 878.7 882.7 889.7 892.7 899.7 902.7 905.7 908.7 911.7 915.7 922.7 925.7 932.7 935.7 938.7 941.7 944.7 951.7 954.7 961.7 964.7" y="391.5" font-size="12" xml:space="preserve">[ -6,   -3.2,   -2.3,   -1.1,   5.1 ]</text>
</g>
<g shape-rendering="crispEdges">
<rect x="545.6" y="307.18" width="7.899999999999977" height="7.62" fill="#e4e4e4"/>
<rect x="545.6" y="299.85" width="7.899999999999977" height="7.62" fill="#d4d4d4"/>
<rect x="545.6" y="292.53" width="7.899999999999977" height="7.62" fill="#c5c5c5"/>
<rect x="545.6" y="285.20" width="7.899999999999977" height="7.62" fill="#b2b2b2"/>
<rect x="545.6" y="277.88" width="7.899999999999977" height="7.62" fill="#9d9d9d"/>
<rect x="545.6" y="270.55" width="7.899999999999977" height="7.62" fill="#8c9ba5"/>
<rect x="545.6" y="263.23" width="7.899999999999977" height="7.62" fill="#7da0b9"/>
<rect x="545.6" y="255.91" width="7.899999999999977" height="7.62" fill="#6ea8c8"/>
<rect x="545.6" y="248.58" width="7.899999999999977" height="7.62" fill="#5fafda"/>
<rect x="545.6" y="241.26" width="7.899999999999977" height="7.62" fill="#55b4e6"/>
<rect x="545.6" y="233.93" width="7.899999999999977" height="7.62" fill="#41a0d7"/>
<rect x="545.6" y="226.61" width="7.899999999999977" height="7.62" fill="#2891c8"/>
<rect x="545.6" y="219.28" width="7.899999999999977" height="7.62" fill="#147db9"/>
<rect x="545.6" y="211.96" width="7.899999999999977" height="7.62" fill="#0073b4"/>
<rect x="545.6" y="204.64" width="7.899999999999977" height="7.62" fill="#00789b"/>
<rect x="545.6" y="197.31" width="7.899999999999977" height="7.62" fill="#007d94"/>
<rect x="545.6" y="189.99" width="7.899999999999977" height="7.62" fill="#008787"/>
<rect x="545.6" y="182.66" width="7.899999999999977" height="7.62" fill="#00947d"/>
<rect x="545.6" y="175.34" width="7.899999999999977" height="7.62" fill="#1ea06e"/>
<rect x="545.6" y="168.01" width="7.899999999999977" height="7.62" fill="#55b45f"/>
<rect x="545.6" y="160.69" width="7.899999999999977" height="7.62" fill="#8ac555"/>
<rect x="545.6" y="153.36" width="7.899999999999977" height="7.62" fill="#c3d741"/>
<rect x="545.6" y="146.04" width="7.899999999999977" height="7.62" fill="#f2e43c"/>
<rect x="545.6" y="138.72" width="7.899999999999977" height="7.62" fill="#f0d22d"/>
<rect x="545.6" y="131.39" width="7.899999999999977" height="7.62" fill="#eec520"/>
<rect x="545.6" y="124.07" width="7.899999999999977" height="7.62" fill="#ebb414"/>
<rect x="545.6" y="116.74" width="7.899999999999977" height="7.62" fill="#e8a505"/>
<rect x="545.6" y="109.42" width="7.899999999999977" height="7.62" fill="#e69600"/>
<rect x="545.6" y="102.09" width="7.899999999999977" height="7.62" fill="#e28c00"/>
<rect x="545.6" y="94.77" width="7.899999999999977" height="7.62" fill="#de7d00"/>
<rect x="545.6" y="87.45" width="7.899999999999977" height="7.62" fill="#dc6900"/>
<rect x="545.6" y="80.12" width="7.899999999999977" height="7.62" fill="#d75f0f"/>
<rect x="545.6" y="72.80" width="7.899999999999977" height="7.62" fill="#d76430"/>
<rect x="545.6" y="65.47" width="7.899999999999977" height="7.62" fill="#d06c5a"/>
<rect x="545.6" y="58.15" width="7.899999999999977" height="7.62" fill="#cf7082"/>
<rect x="545.6" y="50.82" width="7.899999999999977" height="7.62" fill="#cd78aa"/>
<rect x="545.6" y="43.50" width="7.899999999999977" height="7.62" fill="#aa282d"/>
</g>
<path d="M545.6,43.5 V314.5 H553.5" fill="none" stroke="#bbb" stroke-width="0.8"/>
<path d="M553.5,43.5 V314.5 M553.5,47.2 H560.7 M553.5,55.3 H560.7 M553.5,96.6 H560.7 M553.5,137.9 H560.7 M553.5,179.2 H560.7 M553.5,220.4 H560.7 M553.5,261.6 H560.7 M553.5,302.6 H560.7" fill="none" stroke="#000" stroke-width="0.9"/>
<text x="568 575 582" y="59.6" font-size="12" xml:space="preserve">120</text>
<text x="568 575 582" y="100.9" font-size="12" xml:space="preserve">100</text>
<text x="568 575" y="142.2" font-size="12" xml:space="preserve">80</text>
<text x="568 575" y="183.5" font-size="12" xml:space="preserve">60</text>
<text x="568 575" y="224.7" font-size="12" xml:space="preserve">40</text>
<text x="568 575" y="265.9" font-size="12" xml:space="preserve">20</text>
<text x="568" y="306.9" font-size="12" xml:space="preserve">0</text>
<text x="532.7 539.7 546.7 549.7 559.7" y="40.5" font-size="12" xml:space="preserve">ug/m3</text>
<g shape-rendering="crispEdges">
<rect x="1145.5" y="43.50" width="8.0" height="4.82" fill="#a5282a"/>
<rect x="1145.5" y="48.02" width="8.0" height="4.82" fill="#a5282a"/>
<rect x="1145.5" y="52.53" width="8.0" height="4.82" fill="#c81919"/>
<rect x="1145.5" y="57.05" width="8.0" height="4.82" fill="#c81919"/>
<rect x="1145.5" y="61.57" width="8.0" height="4.82" fill="#eb050a"/>
<rect x="1145.5" y="66.08" width="8.0" height="4.82" fill="#ff0000"/>
<rect x="1145.5" y="70.60" width="8.0" height="4.82" fill="#ff0000"/>
<rect x="1145.5" y="75.12" width="8.0" height="4.82" fill="#f01e32"/>
<rect x="1145.5" y="79.63" width="8.0" height="4.82" fill="#e63c55"/>
<rect x="1145.5" y="84.15" width="8.0" height="4.82" fill="#dc5a78"/>
<rect x="1145.5" y="88.67" width="8.0" height="4.82" fill="#cd73a5"/>
<rect x="1145.5" y="93.18" width="8.0" height="4.82" fill="#cd76a0"/>
<rect x="1145.5" y="97.70" width="8.0" height="4.82" fill="#d06e6e"/>
<rect x="1145.5" y="102.22" width="8.0" height="4.82" fill="#d26950"/>
<rect x="1145.5" y="106.73" width="8.0" height="4.82" fill="#d46432"/>
<rect x="1145.5" y="111.25" width="8.0" height="4.82" fill="#d75f05"/>
<rect x="1145.5" y="115.77" width="8.0" height="4.82" fill="#dc6e00"/>
<rect x="1145.5" y="120.28" width="8.0" height="4.82" fill="#e07d00"/>
<rect x="1145.5" y="124.80" width="8.0" height="4.82" fill="#e28700"/>
<rect x="1145.5" y="129.32" width="8.0" height="4.82" fill="#e69600"/>
<rect x="1145.5" y="133.83" width="8.0" height="4.82" fill="#e8a205"/>
<rect x="1145.5" y="138.35" width="8.0" height="4.82" fill="#ebb212"/>
<rect x="1145.5" y="142.87" width="8.0" height="4.82" fill="#eec31e"/>
<rect x="1145.5" y="147.38" width="8.0" height="4.82" fill="#f0d42d"/>
<rect x="1145.5" y="151.90" width="8.0" height="4.82" fill="#f0dc32"/>
<rect x="1145.5" y="156.42" width="8.0" height="4.82" fill="#f2e43c"/>
<rect x="1145.5" y="160.93" width="8.0" height="4.82" fill="#f0e65a"/>
<rect x="1145.5" y="165.45" width="8.0" height="4.82" fill="#eee88c"/>
<rect x="1145.5" y="169.97" width="8.0" height="4.82" fill="#ece8b9"/>
<rect x="1145.5" y="174.48" width="8.0" height="4.82" fill="#e8e8e8"/>
<rect x="1145.5" y="179.00" width="8.0" height="4.82" fill="#e8e8e8"/>
<rect x="1145.5" y="183.52" width="8.0" height="4.82" fill="#cde1cd"/>
<rect x="1145.5" y="188.03" width="8.0" height="4.82" fill="#b9dcb9"/>
<rect x="1145.5" y="192.55" width="8.0" height="4.82" fill="#a5d7a5"/>
<rect x="1145.5" y="197.07" width="8.0" height="4.82" fill="#8cd08c"/>
<rect x="1145.5" y="201.58" width="8.0" height="4.82" fill="#73c87d"/>
<rect x="1145.5" y="206.10" width="8.0" height="4.82" fill="#55be78"/>
<rect x="1145.5" y="210.62" width="8.0" height="4.82" fill="#3cb478"/>
<rect x="1145.5" y="215.13" width="8.0" height="4.82" fill="#23a876"/>
<rect x="1145.5" y="219.65" width="8.0" height="4.82" fill="#0f9b78"/>
<rect x="1145.5" y="224.17" width="8.0" height="4.82" fill="#00917d"/>
<rect x="1145.5" y="228.68" width="8.0" height="4.82" fill="#008787"/>
<rect x="1145.5" y="233.20" width="8.0" height="4.82" fill="#007d96"/>
<rect x="1145.5" y="237.72" width="8.0" height="4.82" fill="#0073a5"/>
<rect x="1145.5" y="242.23" width="8.0" height="4.82" fill="#0069b4"/>
<rect x="1145.5" y="246.75" width="8.0" height="4.82" fill="#005ac8"/>
<rect x="1145.5" y="251.27" width="8.0" height="4.82" fill="#004bdc"/>
<rect x="1145.5" y="255.78" width="8.0" height="4.82" fill="#003cf0"/>
<rect x="1145.5" y="260.30" width="8.0" height="4.82" fill="#0a2dfa"/>
<rect x="1145.5" y="264.82" width="8.0" height="4.82" fill="#1928fa"/>
<rect x="1145.5" y="269.33" width="8.0" height="4.82" fill="#462df0"/>
<rect x="1145.5" y="273.85" width="8.0" height="4.82" fill="#5f2deb"/>
<rect x="1145.5" y="278.37" width="8.0" height="4.82" fill="#7d28e6"/>
<rect x="1145.5" y="282.88" width="8.0" height="4.82" fill="#a023eb"/>
<rect x="1145.5" y="287.40" width="8.0" height="4.82" fill="#961ed7"/>
<rect x="1145.5" y="291.92" width="8.0" height="4.82" fill="#8c1ec8"/>
<rect x="1145.5" y="296.43" width="8.0" height="4.82" fill="#7d20b9"/>
<rect x="1145.5" y="300.95" width="8.0" height="4.82" fill="#7322a5"/>
<rect x="1145.5" y="305.47" width="8.0" height="4.82" fill="#69248c"/>
<rect x="1145.5" y="309.98" width="8.0" height="4.82" fill="#69248c"/>
</g>
<path d="M1145.5,43.5 V314.5 H1153.5" fill="none" stroke="#bbb" stroke-width="0.8"/>
<path d="M1153.5,43.5 V314.5 M1153.5,46 H1160.7 M1153.5,90.3 H1160.7 M1153.5,134.6 H1160.7 M1153.5,179 H1160.7 M1153.5,223.3 H1160.7 M1153.5,267.8 H1160.7 M1153.5,312.2 H1160.7" fill="none" stroke="#000" stroke-width="0.9"/>
<text x="1168 1175 1182" y="50.3" font-size="12" xml:space="preserve">550</text>
<text x="1168 1175" y="94.6" font-size="12" xml:space="preserve">40</text>
<text x="1168 1175" y="138.9" font-size="12" xml:space="preserve">20</text>
<text x="1168" y="183.3" font-size="12" xml:space="preserve">0</text>
<text x="1168 1172 1179" y="227.6" font-size="12" xml:space="preserve">-20</text>
<text x="1168 1172 1179" y="272.1" font-size="12" xml:space="preserve">-40</text>
<text x="1168 1172 1179 1186" y="316.5" font-size="12" xml:space="preserve">-200</text>
<text x="1132.7 1139.7 1146.7 1149.7 1159.7" y="40.5" font-size="12" xml:space="preserve">ug/m3</text>
</g>
</svg></body></html>
